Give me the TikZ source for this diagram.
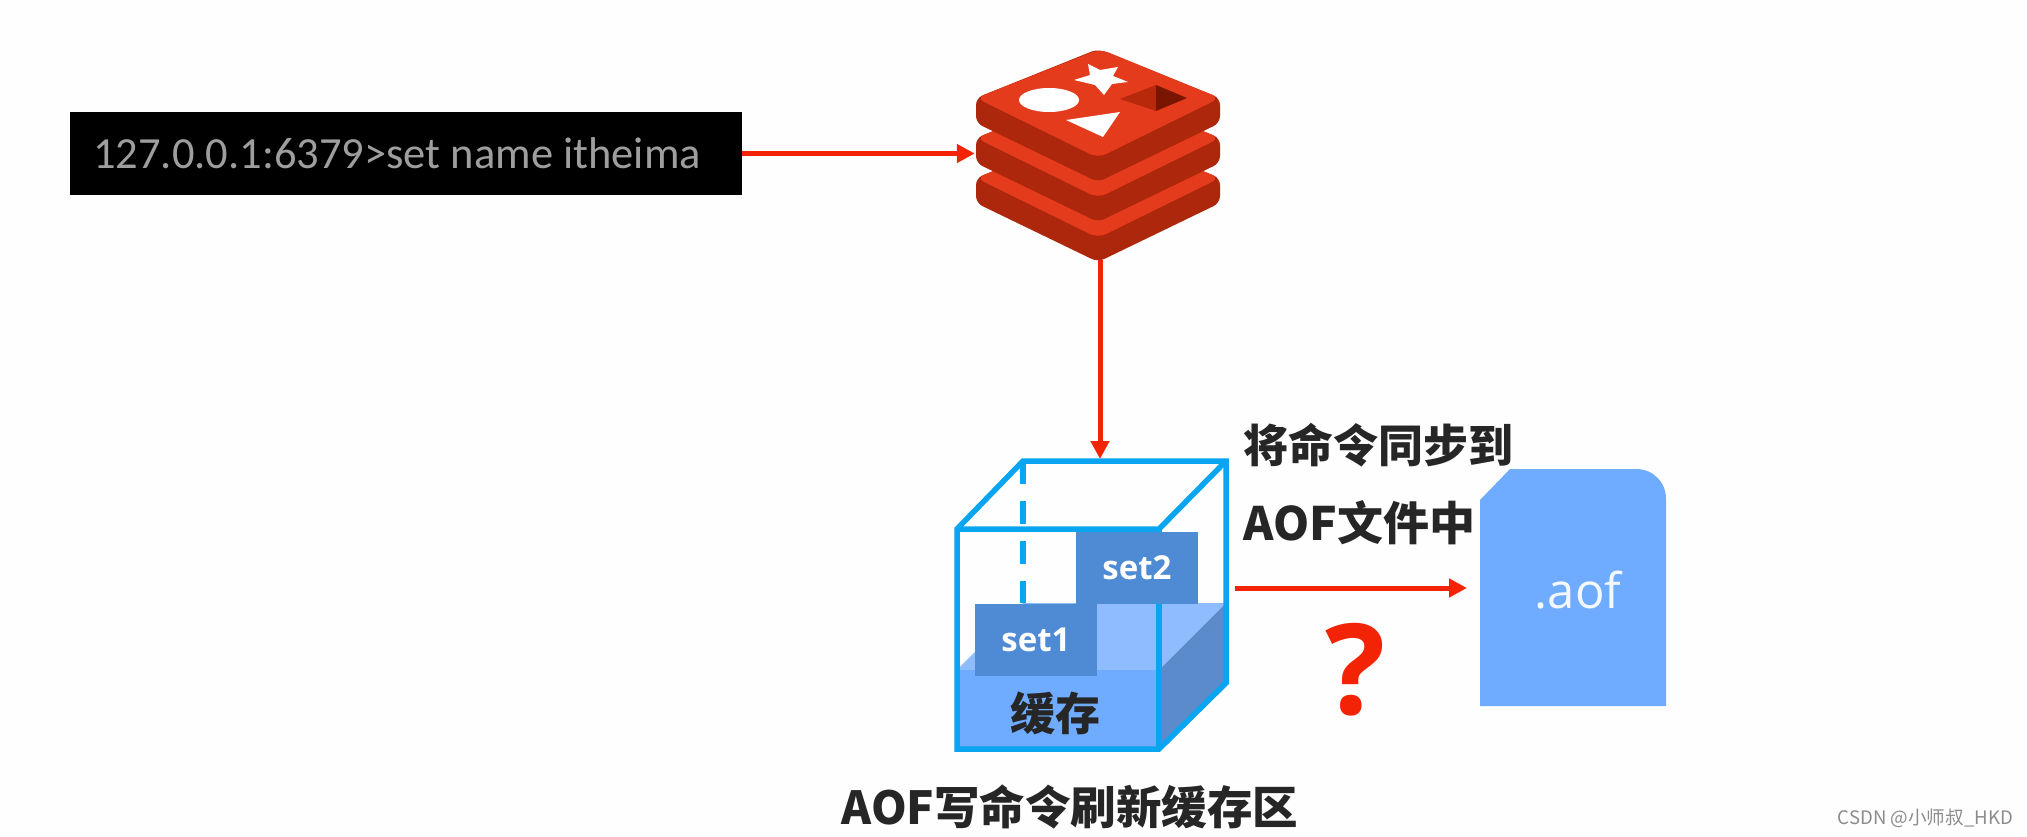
\documentclass[tikz,border=0pt]{standalone}
\usepackage{fontspec}
\usetikzlibrary{arrows.meta}
\newfontfamily\cjk{Noto Sans CJK SC}
\newfontfamily\cons{Carlito}
\newfontfamily\nsans{Open Sans}
\definecolor{paper}{HTML}{FDFEFD}
\definecolor{redisA}{HTML}{E33B1C}
\definecolor{redisB}{HTML}{AC270B}
\definecolor{redisC}{HTML}{B8290C}
\definecolor{redisD}{HTML}{7A1500}
\definecolor{arrowred}{HTML}{F22405}
\definecolor{cubeblue}{HTML}{0AA5F0}
\definecolor{waterA}{HTML}{6FABFF}
\definecolor{waterB}{HTML}{8FBCFF}
\definecolor{waterC}{HTML}{5B8BCB}
\definecolor{setblue}{HTML}{4F8AD4}
\definecolor{inkdark}{HTML}{262626}
\tikzset{
  x=1pt,y=-1pt,
  flow/.style={draw=arrowred,line width=5pt,-{Triangle[length=18pt,width=18pt]}},
  cubeline/.style={draw=cubeblue,line width=5.5pt,line join=miter},
  setbox/.style={fill=setblue,inner sep=0pt,minimum width=122pt,minimum height=72pt,text=white,font=\nsans\bfseries\fontsize{33}{33}\selectfont},
  cjkbold/.style={inner sep=0pt,text=inkdark,font=\cjk\bfseries\fontsize{45}{45}\selectfont},
  layerside/.style={fill=redisB,rounded corners=7pt},
  layertop/.style={fill=redisA,rounded corners=9pt},
}
\newcommand{\redislayer}[1]{%
  \fill[layerside,yshift=-#1pt] (976,98) -- (1098,49) -- (1220,98) -- (1220,123) -- (1098,182) -- (976,123) -- cycle;
  \fill[layertop,yshift=-#1pt] (976,98) -- (1100,49) -- (1220,98) -- (1098,158) -- cycle;
}
\begin{document}
\begin{tikzpicture}
\useasboundingbox (0,0) rectangle (2027,837);
\fill[paper] (0,0) rectangle (2027,837);

% terminal
\node[fill=black,inner sep=0pt,minimum width=672pt,minimum height=83pt] (term) at (406,153.5) {};
\node[anchor=west,inner sep=0pt,text=black!38,font=\cons\fontsize{44.5}{44.5}\selectfont] (termtext) at (93,153.5) {127.0.0.1:6379>set name itheima};

% redis logo
\redislayer{80}
\redislayer{40}
\redislayer{0}
\fill[white] (1049,100) ellipse [x radius=30,y radius=12];
\fill[white] (1088,64) -- (1100,70) -- (1118,67) -- (1113,76) -- (1128,82) -- (1112,84) -- (1104,95) -- (1095,85) -- (1074,80) -- (1090,75) -- cycle;
\fill[white] (1066,120) -- (1120,112) -- (1103,137) -- cycle;
\fill[redisC] (1120,99) -- (1156,85) -- (1156,111) -- cycle;
\fill[redisD] (1156,85) -- (1187,98) -- (1156,111) -- cycle;
\node[inner sep=0pt,minimum width=250pt,minimum height=209pt] (redis) at (1100,155.5) {};

% cube
\fill[waterB] (957,670) -- (1023,603) -- (1226,603) -- (1159,670) -- cycle;
\fill[waterA] (957,670) rectangle (1159,749);
\fill[waterC] (1159,670) -- (1226,603) -- (1226,683) -- (1159,749) -- cycle;
\draw[cubeline,dash pattern=on 23pt off 17pt] (1023,461) -- (1023,603);
\draw[cubeline] (957,529) -- (1023,461) -- (1226,461) -- (1226,683) -- (1159,749) -- (957,749) -- cycle;
\draw[cubeline] (957,529) -- (1159,529) -- (1226,461);
\draw[cubeline] (1159,529) -- (1159,749);
\node[setbox] (set2) at (1137,568) {set2};
\node[setbox] (set1) at (1036,639.5) {set1};
\node[cjkbold] (cache) at (1055,713) {缓存};
\coordinate (cubetop) at (1100,459);

% file
\fill[waterA] (1480,500) -- (1510,469) -- (1636,469) .. controls (1653,469) and (1666,482) .. (1666,499) -- (1666,706) -- (1480,706) -- cycle;
\node[inner sep=0pt,text=white!92!waterA,font=\nsans\fontsize{49}{49}\selectfont] (aof) at (1578,590) {.aof};
\coordinate (filein) at (1467,588);
\coordinate (cubeout) at (1235,588);

% labels
\node[cjkbold,anchor=west] (sync1) at (1243,445) {将命令同步到};
\node[cjkbold,anchor=west,font=\cjk\bfseries\fontsize{46}{46}\selectfont] (sync2) at (1243,523) {AOF文件中};
\node[inner sep=0pt,text=arrowred,font=\nsans\bfseries\fontsize{126}{126}\selectfont] (q) at (1356,670) {?};
\node[cjkbold,font=\cjk\bfseries\fontsize{45.5}{45.5}\selectfont] (title) at (1070,807) {AOF写命令刷新缓存区};
\node[inner sep=0pt,text=black!45,font=\cjk\fontsize{18.6}{18.6}\selectfont,anchor=east] (mark) at (2013,818) {CSDN @小师叔\_HKD};

% connectors
\draw[flow] (term.east) -- (term.east -| redis.west);
\draw[flow] (redis.south) -- (cubetop);
\draw[flow] (cubeout) -- (filein);
\end{tikzpicture}
\end{document}
